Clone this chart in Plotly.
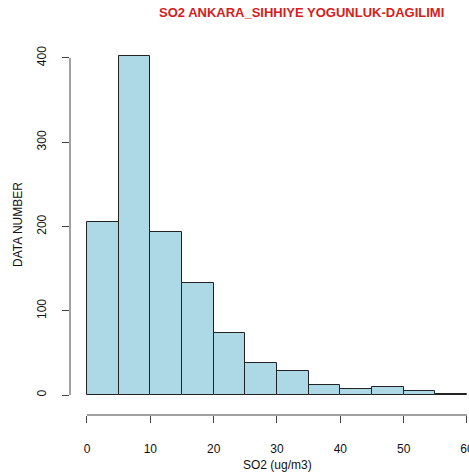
import plotly.graph_objects as go

bin_edges = [0, 5, 10, 15, 20, 25, 30, 35, 40, 45, 50, 55, 60]
counts = [205, 402, 193, 133, 74, 38, 28, 12, 7, 10, 5, 1]
x_ticks = [0, 10, 20, 30, 40, 50, 60]
y_ticks = [0, 100, 200, 300, 400]

centers = [(a + b) / 2 for a, b in zip(bin_edges[:-1], bin_edges[1:])]
widths = [b - a for a, b in zip(bin_edges[:-1], bin_edges[1:])]

W, H = 469, 475
L, R, T, B = 70, 0, 45, 60  # plot area: x 70..469, y 45..415

fig = go.Figure(go.Bar(
    x=centers, y=counts, width=widths,
    marker=dict(color="#ADD8E6", line=dict(color="#222222", width=1)),
))

font = "Liberation Sans, Arial, Helvetica, sans-serif"
axcol = "#444444"

fig.update_layout(
    width=W, height=H,
    margin=dict(l=L, r=R, t=T, b=B, autoexpand=False),
    paper_bgcolor="white", plot_bgcolor="white",
    showlegend=False,
    bargap=0,
    font=dict(family=font, size=12, color="#111111"),
    xaxis=dict(
        range=[-2.68, 60.32], tickvals=x_ticks, ticktext=[str(v) for v in x_ticks],
        showgrid=False, zeroline=False, showline=False,
        ticks="outside", ticklen=7, tickcolor=axcol, tickwidth=1,
        ticklabelstandoff=16, ticklabeloverflow="allow",
        tickfont=dict(size=12, family=font, color="#111111"),
    ),
    yaxis=dict(
        range=[-23.7, 415.4], tickvals=y_ticks, ticktext=[str(v) for v in y_ticks],
        showgrid=False, zeroline=False, showline=False,
        ticks="outside", ticklen=7, tickcolor=axcol, tickwidth=1,
        tickangle=-90, ticklabelstandoff=11, ticklabeloverflow="allow",
        tickfont=dict(size=12, family=font, color="#111111"),
    ),
    shapes=[
        dict(type="line", xref="x", yref="paper", x0=min(x_ticks), x1=max(x_ticks), y0=0, y1=0,
             line=dict(color=axcol, width=1)),
        dict(type="line", xref="paper", yref="y", x0=0, x1=0, y0=min(y_ticks), y1=max(y_ticks),
             line=dict(color=axcol, width=1)),
    ],
    annotations=[
        dict(text="<b>SO2 ANKARA_SIHHIYE YOGUNLUK-DAGILIMI</b>", xref="paper", yref="paper",
             x=(301 - L) / (W - L - R), y=1 + (45 - 12) / (H - T - B), xanchor="center", yanchor="middle",
             showarrow=False, font=dict(size=13, color="#d42020", family=font)),
        dict(text="SO2 (ug/m3)", xref="paper", yref="paper",
             x=(277 - L) / (W - L - R), y=-(465 - (H - B)) / (H - T - B), xanchor="center", yanchor="middle",
             showarrow=False, font=dict(size=12, color="#111111", family=font)),
        dict(text="DATA NUMBER", xref="paper", yref="paper", textangle=-90,
             x=-(L - 18) / (W - L - R), y=(H - B - 225) / (H - T - B), xanchor="center", yanchor="middle",
             showarrow=False, font=dict(size=12, color="#111111", family=font)),
    ],
)

fig.write_html("out.html")
